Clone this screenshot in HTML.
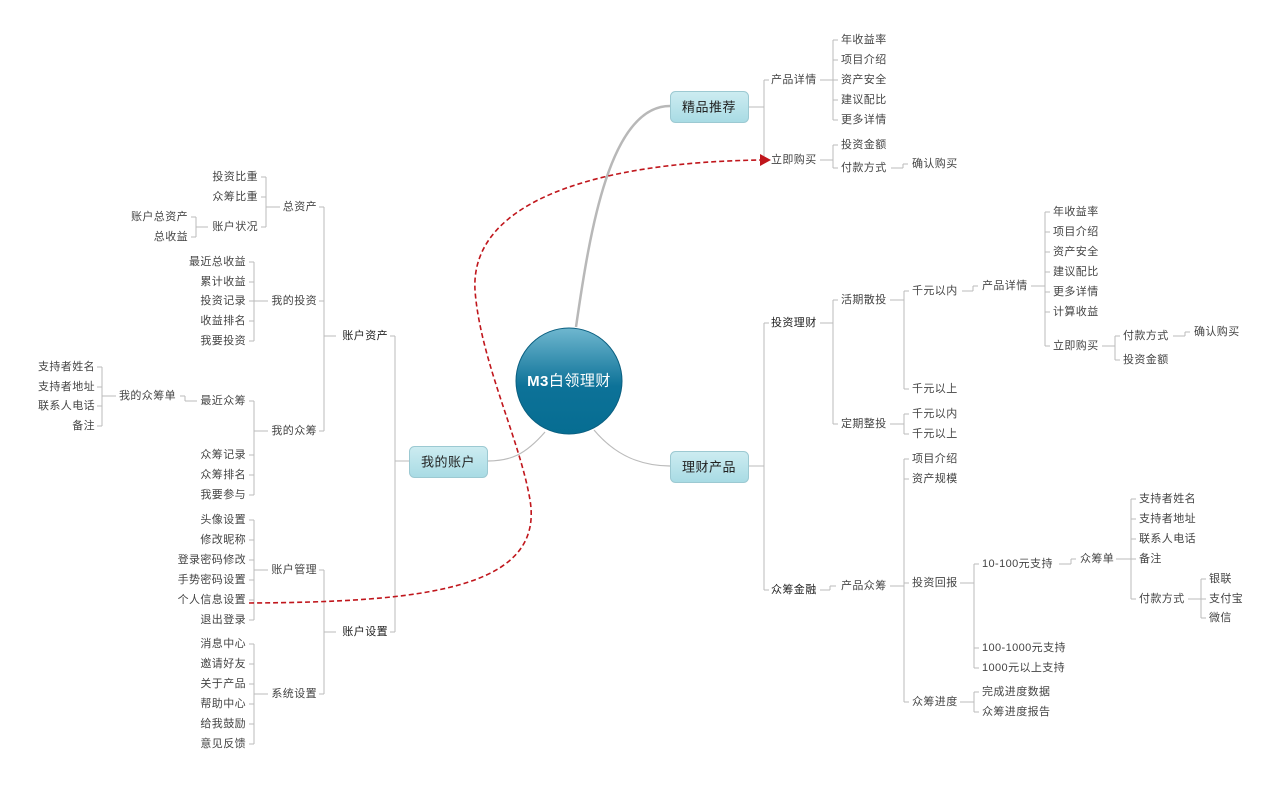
<!DOCTYPE html>
<html><head><meta charset="utf-8"><style>
html,body{margin:0;padding:0;background:#fff;}
svg{display:block;}
text{font-family:"Liberation Sans","Noto Sans CJK SC",sans-serif;font-size:11px;fill:#444;letter-spacing:0.4px;dominant-baseline:central;}
.r{text-anchor:end;}
.b{fill:#222;}
.n{font-size:13px;text-anchor:middle;fill:#222;letter-spacing:0.5px;}
line,path.l{stroke:#bbb;stroke-width:1;fill:none;}
</style></head><body>
<svg width="1280" height="786" viewBox="0 0 1280 786" xmlns="http://www.w3.org/2000/svg">
<defs>
<linearGradient id="cg" x1="0" y1="0" x2="0" y2="1"><stop offset="0" stop-color="#6fb7cf"/><stop offset="0.55" stop-color="#0d7298"/><stop offset="1" stop-color="#066d92"/></linearGradient>
<linearGradient id="ng" x1="0" y1="0" x2="0" y2="1"><stop offset="0" stop-color="#cdecf1"/><stop offset="1" stop-color="#a8dbe4"/></linearGradient>
</defs>
<path d="M576,327 C590,230 610,106 670,106" stroke="#b8b8b8" stroke-width="2.5" fill="none"/>
<path d="M594,430 C615,455 640,466 670,466" stroke="#bbb" stroke-width="1.2" fill="none"/>
<path d="M545,432 C525,455 510,461 488,461" stroke="#bbb" stroke-width="1.2" fill="none"/>
<circle cx="569" cy="381" r="53" fill="url(#cg)" stroke="#0a5f80" stroke-width="1"/>
<text x="569" y="381" style="font-size:15px;fill:#fff;text-anchor:middle;letter-spacing:0.5px;"><tspan font-weight="bold">M3</tspan>白领理财</text>
<rect x="670.5" y="91.5" width="78" height="31" rx="5" fill="url(#ng)" stroke="#9cc9d2"/>
<text x="709" y="107" class="n">精品推荐</text>
<rect x="670.5" y="451.5" width="78" height="31" rx="5" fill="url(#ng)" stroke="#9cc9d2"/>
<text x="709" y="467" class="n">理财产品</text>
<rect x="409.5" y="446.5" width="78" height="31" rx="5" fill="url(#ng)" stroke="#9cc9d2"/>
<text x="448" y="462" class="n">我的账户</text>

<path class="l" d="M749,107H764M764,80V160M764,80H769M764,160H769"/>
<text x="771" y="80">产品详情</text>
<text x="771" y="160">立即购买</text>
<path class="l" d="M820,80H833M833,40V120M833,40H838M833,60H838M833,80H838M833,100H838M833,120H838"/>
<text x="841" y="40">年收益率</text><text x="841" y="60">项目介绍</text><text x="841" y="80">资产安全</text><text x="841" y="100">建议配比</text><text x="841" y="120">更多详情</text>
<path class="l" d="M820,160H833M833,145V168M833,145H838M833,168H838"/>
<text x="841" y="145">投资金额</text><text x="841" y="168">付款方式</text>
<path class="l" d="M891,168H903M903,168V164M903,164H908"/>
<text x="912" y="164">确认购买</text>

<path class="l" d="M749,466H764M764,323V590M764,323H769M764,590H769"/>
<text x="771" y="323" class="b">投资理财</text>
<text x="771" y="590" class="b">众筹金融</text>
<path class="l" d="M820,323H833M833,300V424M833,300H838M833,424H838"/>
<text x="841" y="300">活期散投</text><text x="841" y="424">定期整投</text>
<path class="l" d="M890,300H904M904,291V389M904,291H909M904,389H909"/>
<text x="912" y="291">千元以内</text><text x="912" y="389">千元以上</text>
<path class="l" d="M962,291H973M973,291V286M973,286H978"/>
<text x="982" y="286">产品详情</text>
<path class="l" d="M1031,286H1045M1045,212V346M1045,212H1050M1045,232H1050M1045,252H1050M1045,272H1050M1045,292H1050M1045,312H1050M1045,346H1050"/>
<text x="1053" y="212">年收益率</text><text x="1053" y="232">项目介绍</text><text x="1053" y="252">资产安全</text><text x="1053" y="272">建议配比</text><text x="1053" y="292">更多详情</text><text x="1053" y="312">计算收益</text><text x="1053" y="346">立即购买</text>
<path class="l" d="M1102,346H1115M1115,336V360M1115,336H1120M1115,360H1120"/>
<text x="1123" y="336">付款方式</text><text x="1123" y="360">投资金额</text>
<path class="l" d="M1173,336H1185M1185,336V332M1185,332H1190"/>
<text x="1194" y="332">确认购买</text>
<path class="l" d="M890,424H904M904,414V434M904,414H909M904,434H909"/>
<text x="912" y="414">千元以内</text><text x="912" y="434">千元以上</text>
<path class="l" d="M820,590H830M830,590V586M830,586H836"/>
<text x="841" y="586">产品众筹</text>
<path class="l" d="M890,586H904M904,459V702M904,459H909M904,479H909M904,583H909M904,702H909"/>
<text x="912" y="459">项目介绍</text><text x="912" y="479">资产规模</text><text x="912" y="583">投资回报</text><text x="912" y="702">众筹进度</text>
<path class="l" d="M960,583H974M974,564V668M974,564H979M974,648H979M974,668H979"/>
<text x="982" y="564">10-100元支持</text><text x="982" y="648">100-1000元支持</text><text x="982" y="668">1000元以上支持</text>
<path class="l" d="M1059,564H1071M1071,564V559M1071,559H1076"/>
<text x="1080" y="559">众筹单</text>
<path class="l" d="M1116,559H1131M1131,499V599M1131,499H1136M1131,519H1136M1131,539H1136M1131,559H1136M1131,599H1136"/>
<text x="1139" y="499">支持者姓名</text><text x="1139" y="519">支持者地址</text><text x="1139" y="539">联系人电话</text><text x="1139" y="559">备注</text><text x="1139" y="599">付款方式</text>
<path class="l" d="M1188,599H1201M1201,579V618M1201,579H1206M1201,599H1206M1201,618H1206"/>
<text x="1209" y="579">银联</text><text x="1209" y="599">支付宝</text><text x="1209" y="618">微信</text>
<path class="l" d="M960,702H974M974,692V712M974,692H979M974,712H979"/>
<text x="982" y="692">完成进度数据</text><text x="982" y="712">众筹进度报告</text>

<path class="l" d="M409,461H395M395,336V632M395,336H390M395,632H390"/>
<text x="388" y="336" class="r b">账户资产</text>
<text x="388" y="632" class="r b">账户设置</text>
<path class="l" d="M336,336H324M324,207V431M324,207H319M324,301H319M324,431H319"/>
<text x="317" y="207" class="r">总资产</text><text x="317" y="301" class="r">我的投资</text><text x="317" y="431" class="r">我的众筹</text>
<path class="l" d="M280,207H266M266,177V227M266,177H261M266,197H261M266,227H261"/>
<text x="258" y="177" class="r">投资比重</text><text x="258" y="197" class="r">众筹比重</text><text x="258" y="227" class="r">账户状况</text>
<path class="l" d="M208,227H196M196,217V237M196,217H191M196,237H191"/>
<text x="188" y="217" class="r">账户总资产</text><text x="188" y="237" class="r">总收益</text>
<path class="l" d="M268,301H254M254,262V341M254,262H249M254,282H249M254,301H249M254,321H249M254,341H249"/>
<text x="246" y="262" class="r">最近总收益</text><text x="246" y="282" class="r">累计收益</text><text x="246" y="301" class="r">投资记录</text><text x="246" y="321" class="r">收益排名</text><text x="246" y="341" class="r">我要投资</text>
<path class="l" d="M268,431H254M254,401V495M254,401H249M254,455H249M254,475H249M254,495H249"/>
<text x="246" y="401" class="r">最近众筹</text><text x="246" y="455" class="r">众筹记录</text><text x="246" y="475" class="r">众筹排名</text><text x="246" y="495" class="r">我要参与</text>
<path class="l" d="M197,401H185M185,401V396M185,396H180"/>
<text x="176" y="396" class="r">我的众筹单</text>
<path class="l" d="M116,396H102M102,367V426M102,367H97M102,387H97M102,406H97M102,426H97"/>
<text x="95" y="367" class="r">支持者姓名</text><text x="95" y="387" class="r">支持者地址</text><text x="95" y="406" class="r">联系人电话</text><text x="95" y="426" class="r">备注</text>
<path class="l" d="M336,632H324M324,570V694M324,570H319M324,694H319"/>
<text x="317" y="570" class="r">账户管理</text><text x="317" y="694" class="r">系统设置</text>
<path class="l" d="M268,570H254M254,520V620M254,520H249M254,540H249M254,560H249M254,580H249M254,600H249M254,620H249"/>
<text x="246" y="520" class="r">头像设置</text><text x="246" y="540" class="r">修改昵称</text><text x="246" y="560" class="r">登录密码修改</text><text x="246" y="580" class="r">手势密码设置</text><text x="246" y="600" class="r">个人信息设置</text><text x="246" y="620" class="r">退出登录</text>
<path class="l" d="M268,694H254M254,644V744M254,644H249M254,664H249M254,684H249M254,704H249M254,724H249M254,744H249"/>
<text x="246" y="644" class="r">消息中心</text><text x="246" y="664" class="r">邀请好友</text><text x="246" y="684" class="r">关于产品</text><text x="246" y="704" class="r">帮助中心</text><text x="246" y="724" class="r">给我鼓励</text><text x="246" y="744" class="r">意见反馈</text>

<path d="M249,603 C420,602 545,590 530,500 C520,440 480,360 475,290 C470,200 600,162 762,160" stroke="#c0161c" stroke-width="1.6" stroke-dasharray="5,3" fill="none"/>
<polygon points="760,154 771,160 760,166" fill="#c0161c"/>
</svg>
</body></html>
